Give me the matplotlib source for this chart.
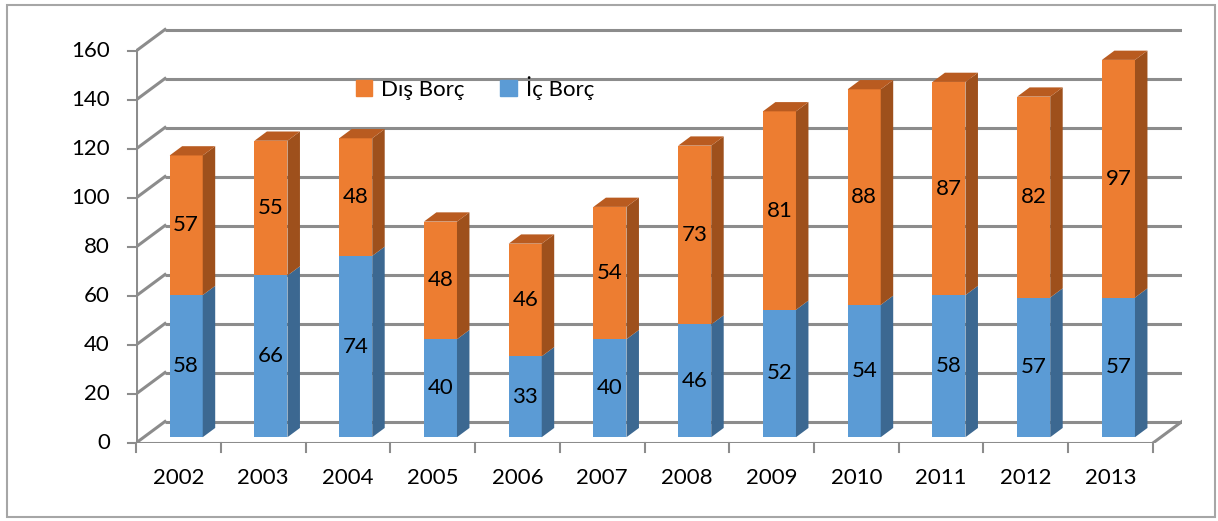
import numpy as np
import matplotlib.pyplot as plt
from matplotlib.patches import Polygon, Patch

years = ['2002', '2003', '2004', '2005', '2006', '2007',
         '2008', '2009', '2010', '2011', '2012', '2013']
ic_borc = [58, 66, 74, 40, 33, 40, 46, 52, 54, 58, 57, 57]
dis_borc = [57, 55, 48, 48, 46, 54, 73, 81, 88, 87, 82, 97]
y_ticks = [0, 20, 40, 60, 80, 100, 120, 140, 160]

plt.rcParams['font.family'] = ['Lato', 'DejaVu Sans']
FS = 16

# colours (front, side, top)
blue = ('#5B9BD5', '#3C6891', '#4A80B2')
orange = ('#ED7D31', '#9E501C', '#B95B20')
grid_c = '#8C8C8C'

W, H = 1218, 521
fig = plt.figure(figsize=(W / 100, H / 100), dpi=100)

# ── axes: x in category units, y in value units ──────────────────────────────
px_cat = (1153 - 136) / 12          # pixels per category
px_val = (443 - 51) / 160           # pixels per value unit
DX = 29 / px_cat                    # full depth of the 3D box
DY = 21.5 / px_val
x0 = -0.5
n = len(years)
x_right = x0 + n + DX
y_top = 160 + DY + 1
ax = fig.add_axes([136 / W, (H - 443) / H,
                   (x_right - x0) * px_cat / W, y_top * px_val / H])
ax.set_xlim(x0, x_right)
ax.set_ylim(0, y_top)
ax.axis('off')

# ── walls, floor, axes ───────────────────────────────────────────────────────
lw = 2.2
for v in y_ticks:
    ax.plot([x0 + DX, x0 + n + DX], [v + DY, v + DY], color=grid_c, lw=lw,
            solid_capstyle='butt', zorder=1)
    ax.plot([x0, x0 + DX], [v, v + DY], color=grid_c, lw=lw, zorder=1)
    ax.plot([x0 - 8 / px_cat, x0], [v, v], color=grid_c, lw=1.5,
            clip_on=False, zorder=1)
    ax.text(x0 - 26 / px_cat, v, str(v), ha='right', va='center',
            fontsize=FS, color='black')
ax.plot([x0, x0 + n], [0, 0], color=grid_c, lw=lw, zorder=1)
ax.plot([x0 + n, x0 + n + DX], [0, DY], color=grid_c, lw=lw, zorder=1)
ax.plot([x0, x0], [0, 160], color=grid_c, lw=lw, zorder=1)
for k in range(n + 1):
    ax.plot([x0 + k, x0 + k], [0, -9 / px_val], color=grid_c, lw=1.5,
            clip_on=False, zorder=1)
for i, yr in enumerate(years):
    ax.text(i, -35 / px_val, yr, ha='center', va='center', fontsize=FS)

# ── 3D stacked bars ──────────────────────────────────────────────────────────
f0, fd = 0.27, 0.43          # front position and depth of bars (fraction)
bw = 0.39
ox, oy = f0 * DX, f0 * DY
ddx, ddy = fd * DX, fd * DY
xs = np.arange(n) + ox

def bar3d(vals, bottoms, cols, top_face):
    ax.bar(xs, vals, bottom=np.array(bottoms) + oy, width=bw,
           color=cols[0], edgecolor='none', zorder=3)
    for x, v, b in zip(xs, vals, bottoms):
        b = b + oy
        xr = x + bw / 2
        ax.add_patch(Polygon([(xr, b), (xr + ddx, b + ddy),
                              (xr + ddx, b + v + ddy), (xr, b + v)],
                             closed=True, fc=cols[1], ec='none', zorder=3))
        if top_face:
            xl = x - bw / 2
            t = b + v
            ax.add_patch(Polygon([(xl, t), (xl + ddx, t + ddy),
                                  (xr + ddx, t + ddy), (xr, t)],
                                 closed=True, fc=cols[2], ec='none', zorder=3))

bar3d(ic_borc, [0] * n, blue, False)
bar3d(dis_borc, ic_borc, orange, True)

for x, a, b in zip(xs, ic_borc, dis_borc):
    ax.text(x, oy + a / 2, str(a), ha='center', va='center', fontsize=FS,
            zorder=5)
    ax.text(x, oy + a + b / 2, str(b), ha='center', va='center', fontsize=FS,
            zorder=5)

# ── legend ───────────────────────────────────────────────────────────────────
handles = [Patch(color=orange[0], label='Dış Borç'),
           Patch(color=blue[0], label='İç Borç')]
fig.legend(handles=handles, loc='center', ncol=2, frameon=False,
           fontsize=FS, handlelength=0.75, handleheight=0.75,
           handletextpad=0.4, columnspacing=1.6,
           bbox_to_anchor=(475 / W, 1 - 88 / H))

# ── outer border ─────────────────────────────────────────────────────────────
fig.patches.append(plt.Rectangle((7 / W, (H - 517) / H), (1215 - 7) / W,
                                 (517 - 5) / H, transform=fig.transFigure,
                                 fill=False, ec='#A6A6A6', lw=1.5))

fig.savefig('out.png', dpi=100)
